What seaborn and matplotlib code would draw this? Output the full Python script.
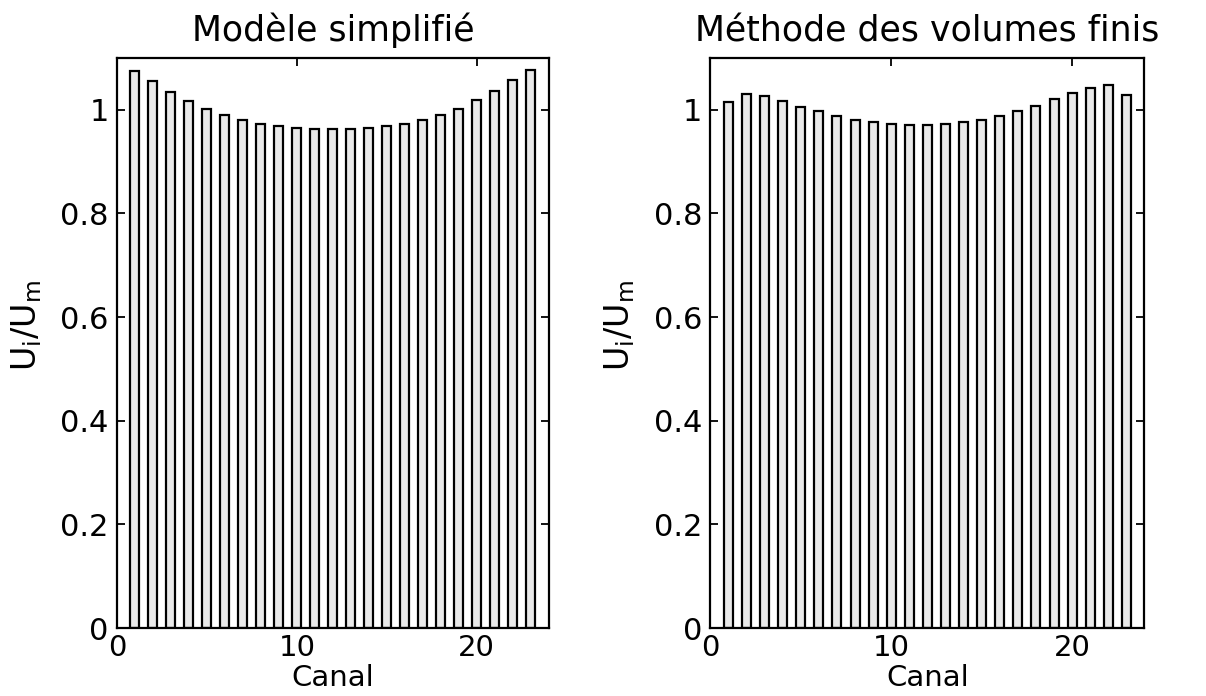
import numpy as np
import pandas as pd
import matplotlib
matplotlib.use("Agg")
import matplotlib.pyplot as plt
import seaborn as sns

canal = list(range(1, 24))
simplifie = [1.075, 1.055, 1.035, 1.017, 1.002, 0.990, 0.981, 0.973, 0.968, 0.965, 0.963, 0.962,
             0.963, 0.965, 0.968, 0.973, 0.981, 0.990, 1.002, 1.018, 1.036, 1.057, 1.077]
volumes_finis = [1.016, 1.031, 1.026, 1.017, 1.006, 0.997, 0.988, 0.981, 0.976, 0.972, 0.970, 0.970,
                 0.972, 0.977, 0.981, 0.988, 0.998, 1.007, 1.020, 1.032, 1.042, 1.048, 1.028]
titles = ["Modèle simplifié", "Méthode des volumes finis"]
yticks = [0, 0.2, 0.4, 0.6, 0.8, 1]
ytick_labels = ["0", "0.2", "0.4", "0.6", "0.8", "1"]
xticks = [0, 10, 20]

sns.set_style("ticks")
plt.rcParams['font.family'] = ['DejaVu Sans']
plt.rcParams['mathtext.fontset'] = 'dejavusans'
plt.rcParams['text.color'] = 'black'
plt.rcParams['axes.labelcolor'] = 'black'
plt.rcParams['xtick.color'] = 'black'
plt.rcParams['ytick.color'] = 'black'

fig = plt.figure(figsize=(12.06, 6.96), dpi=100)
ax1 = fig.add_axes([0.097, 0.0977, 0.358, 0.819])
ax2 = fig.add_axes([0.589, 0.0977, 0.360, 0.819])

for ax, vals, title in zip([ax1, ax2], [simplifie, volumes_finis], titles):
    df = pd.DataFrame({"Canal": canal, "U": vals})
    sns.barplot(data=df, x="Canal", y="U", native_scale=True, width=0.5,
                color="#e9e9e9", edgecolor="black", linewidth=1.6, saturation=1,
                errorbar=None, ax=ax)
    ax.set_xlim(0, 24)
    ax.set_ylim(0, 1.1)
    ax.set_xticks(xticks)
    ax.set_xticklabels([str(t) for t in xticks], fontsize=21)
    ax.set_yticks(yticks)
    ax.set_yticklabels(ytick_labels, fontsize=22)
    ax.tick_params(axis="both", direction="in", top=True, right=True, length=6, width=1.3)
    ax.tick_params(axis="x", pad=4)
    ax.tick_params(axis="y", pad=6)
    for s in ax.spines.values():
        s.set_visible(True)
        s.set_linewidth(1.6)
        s.set_color("black")
    ax.set_title(title, fontsize=25, pad=12)
    ax.set_xlabel("Canal", fontsize=21, labelpad=2)
    ax.set_ylabel(r"$\mathrm{U_i/U_m}$", fontsize=24)
    ax.yaxis.set_label_coords(-0.17, 0.53)

fig.savefig("out.png", dpi=100)
